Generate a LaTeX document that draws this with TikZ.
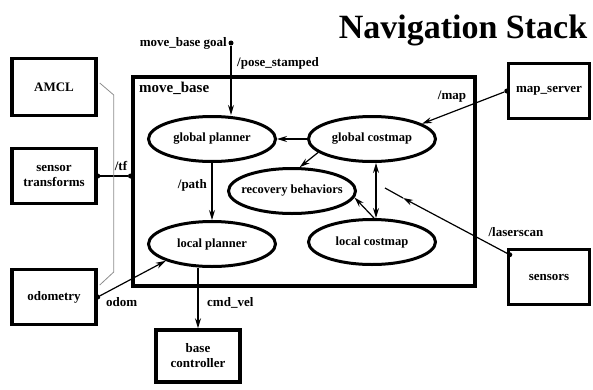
\documentclass[tikz,border=0pt]{standalone}
\usepackage{fontspec}
\setmainfont{Liberation Serif}
\usetikzlibrary{shapes.geometric,arrows.meta}

\newcommand{\proctext}[1]{\makebox[0pt]{#1}}

\begin{document}
\begin{tikzpicture}[
x=1pt,y=1pt,
>={Stealth[length=10pt,width=6pt]},
line/.style={draw,line width=1.2pt},
amclline/.style={draw,line width=0.8pt,color=black!45},
box/.style={draw,line width=3.5pt,align=center,font=\bfseries\fontsize{13}{15}\selectfont},
proc/.style={draw,ellipse,line width=3pt,inner sep=0pt,minimum width=127pt,minimum height=45pt,font=\bfseries\fontsize{12.5}{14}\selectfont},
lbl/.style={inner sep=0pt,font=\bfseries\fontsize{13}{15}\selectfont},
jointdot/.style={circle,fill,inner sep=0pt,minimum size=5pt}
]

\useasboundingbox (0,0) rectangle (593,389);

\node (title) at (463,359) {\bfseries\fontsize{34}{38}\selectfont Navigation Stack};

%move_base
\node[box,line width=4pt,minimum width=342,minimum height=208] (mbase) at (303.5,207.5) {};
\node[lbl,anchor=west,font=\bfseries\fontsize{15}{17}\selectfont] (mblbl) at (139,301) {move\_base};

\node[proc] (gplan) at (212,250) {\proctext{global planner}};
\node[proc] (gcost) at (372,250) {\proctext{global costmap}};
\node[proc] (rec) at (292,198) {\proctext{recovery behaviors}};
\node[proc] (lplan) at (212,145) {\proctext{local planner}};
\node[proc] (lcost) at (372,147) {\proctext{local costmap}};

%outside
\node[box,minimum width=84,minimum height=57] (amcl) at (54,302) {AMCL};
\node[box,minimum width=84,minimum height=55] (stf) at (54,213) {sensor\\transforms};
\node[box,minimum width=84,minimum height=55] (odom) at (54,92) {odometry};
\node[box,minimum width=84,minimum height=52] (base) at (198,33) {base\\controller};
\node[box,minimum width=81,minimum height=55] (mapsrv) at (549,298) {map\_server};
\node[box,minimum width=81,minimum height=55] (sensors) at (549,112) {sensors};

%goal
\node[jointdot] (goal) at (231,346) {};
\node[lbl,anchor=east] (goallbl) at (227,346) {move\_base goal};
\node[lbl,anchor=west] (poselbl) at (237,326) {/pose\_stamped};
\path[line,->] (goal) -- (goal |- gplan.north);

\path[line,->] (gcost) -- (gplan);
\path[line,->] (gcost.194) -- (rec.72);
\path[line,<->] ([xshift=4]gcost.south) -- ([xshift=4]lcost.north);
\path[line,->] ([xshift=2]lcost.north) -- (rec.-6);

\path[line,->] (gplan) -- (lplan);
\node[lbl,anchor=east] (pathlbl) at (207,204) {/path};
\path[line,->] (lplan.south -| base) -- (base);
\node[lbl,anchor=west] (cmdlbl) at (207,86) {cmd\_vel};

%odom
\node[jointdot] (odomdot) at (odom.east) {};
\path[line,->] (odomdot) -- (lplan.200);
\node[lbl,anchor=west] (odomlbl) at (106,87) {odom};

%tf
\node[jointdot] (tfdot1) at (stf.east) {};
\node[jointdot] (tfdot2) at (stf.east -| mbase.west) {};
\path[line] (tfdot1) -- (tfdot2);
\node[lbl] (tflbl) at (121,223) {/tf};

%map
\node[jointdot] (mapdot) at (mapsrv.west) {};
\path[line,->] (mapdot) -- (gcost.17);
\node[lbl] (maplbl) at (452,292) {/map};

%laserscan
\node[jointdot] (lsdot) at ([xshift=3,yshift=-7]sensors.north west) {};
\coordinate (lsmid) at (403,191);
\coordinate (lsend) at (385,201);
\path[line,->] (lsdot) -- (lsmid);
\path[line] (lsmid) -- (lsend);
\node[lbl] (lslbl) at (516,157) {/laserscan};

%amcl
\path[amclline] ([xshift=2,yshift=4]amcl.east) -- ++(14,-12) -- ([xshift=16,yshift=25]odom.east) -- ([xshift=2,yshift=12]odom.east);

\end{tikzpicture}
\end{document}
